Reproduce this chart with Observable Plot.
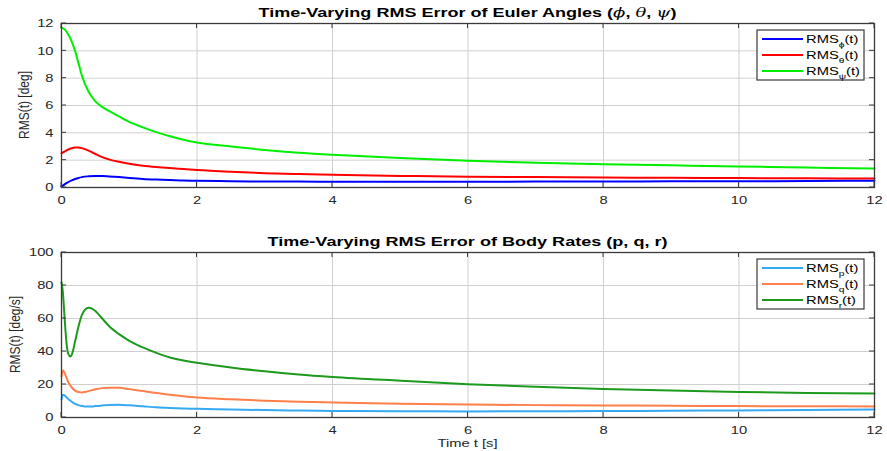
<!DOCTYPE html>
<html>
<head>
<meta charset="utf-8">
<script src="https://cdn.jsdelivr.net/npm/d3@7"></script>
<script src="https://cdn.jsdelivr.net/npm/@observablehq/plot@0.6"></script>
<style>
  html, body { margin: 0; padding: 0; background: #fff; }
  #chart { width: 887px; }
  svg { display: block; font-family: "Liberation Sans", Arial, sans-serif; }
</style>
</head>
<body>
<div id="chart"></div>
<script>
// ---- Data: Euler angles panel ----
const tAngles = [0,0.05,0.1,0.15,0.2,0.25,0.3,0.4,0.5,0.6,0.7,0.85,1.0,1.2,1.4,1.6,1.8,2,2.5,3,3.5,4,5,6,7,8,9,10,11,12];
const rmsPhi   = [0.05,0.25,0.4,0.52,0.62,0.7,0.76,0.82,0.85,0.84,0.81,0.76,0.7,0.63,0.58,0.54,0.51,0.49,0.46,0.44,0.43,0.42,0.42,0.42,0.43,0.44,0.45,0.46,0.47,0.5];
const rmsTheta = [2.5,2.65,2.78,2.87,2.92,2.93,2.88,2.7,2.45,2.22,2.06,1.88,1.74,1.6,1.5,1.42,1.35,1.28,1.15,1.05,0.98,0.93,0.85,0.79,0.76,0.73,0.71,0.69,0.67,0.66];
const rmsPsi   = [11.7,11.55,11.2,10.7,10.0,9.1,8.2,7.0,6.3,5.9,5.6,5.2,4.8,4.4,4.05,3.75,3.5,3.3,3.0,2.75,2.55,2.4,2.15,1.95,1.82,1.71,1.62,1.54,1.46,1.39];

// ---- Data: body rates panel ----
const tRates = [0,0.02,0.04,0.06,0.08,0.1,0.13,0.16,0.2,0.25,0.3,0.35,0.4,0.45,0.5,0.6,0.7,0.85,1.0,1.2,1.4,1.6,1.8,2,2.5,3,3.5,4,5,6,7,8,9,10,11,12];
const rmsP = [11,13.8,13.5,12.8,12.0,11.2,10.2,9.3,8.3,7.5,7.0,6.7,6.6,6.7,6.9,7.3,7.6,7.7,7.4,6.8,6.2,5.8,5.5,5.3,4.9,4.5,4.2,4.0,3.8,3.7,3.8,3.9,4.1,4.3,4.6,4.8];
const rmsQ = [25,28.5,27.5,25.5,23.5,21.5,19.5,17.8,16.3,15.4,15.2,15.5,16.0,16.6,17.1,17.8,18.1,18.0,17.2,16.0,14.8,13.8,12.9,12.1,11.0,10.2,9.6,9.1,8.4,7.9,7.5,7.3,7.1,6.9,6.8,6.7];
const rmsR = [82,76,64,52,43,38.5,37,39,46,55,62,65.5,66.5,66,64.5,60,55.5,50.5,46.5,42.5,39.2,36.4,34.5,33.2,30.3,28.0,26.1,24.6,22.3,20.2,18.6,17.3,16.3,15.5,14.9,14.5];

// ---- Labels / ticks ----
const xTicks = [0,2,4,6,8,10,12];
const yTicksAngles = [0,2,4,6,8,10,12];
const yTicksRates = [0,20,40,60,80,100];
const anglesSeries = ["phi","theta","psi"];
const anglesSubs = ["ϕ","θ","ψ"];
const anglesColors = ["#0000ff","#ff0000","#00ee00"];
const ratesSeries = ["p","q","r"];
const ratesSubs = ["p","q","r"];
const ratesColors = ["#35a9f2","#ff7f4a","#1d9a1d"];

function longForm(t, names, arrays) {
  const out = [];
  names.forEach((n, k) => arrays[k].forEach((v, i) => out.push({t: t[i], v, s: n})));
  return out;
}
const dataAngles = longForm(tAngles, anglesSeries, [rmsPhi, rmsTheta, rmsPsi]);
const dataRates = longForm(tRates, ratesSeries, [rmsP, rmsQ, rmsR]);

const W = 887, ML = 61, MR = 13;
const FONT = '"Liberation Sans", Arial, sans-serif';
const FS = 11.5;       // text size (vertical)
const STRETCH = 1.28;  // the reference image is horizontally stretched

function panel({data, names, colors, yDomain, yTicks, height, marginTop, marginBottom}) {
  return Plot.plot({
    width: W, height, marginLeft: ML, marginRight: MR, marginTop, marginBottom,
    style: {fontFamily: FONT, fontSize: FS + "px", color: "#262626", background: "#fff"},
    x: {domain: [0, 12], ticks: xTicks, label: null},
    y: {domain: yDomain, ticks: yTicks, label: null},
    color: {domain: names, range: colors},
    marks: [
      Plot.gridX(xTicks, {stroke: "#d0d0d0", strokeOpacity: 1, strokeWidth: 1}),
      Plot.gridY(yTicks, {stroke: "#d0d0d0", strokeOpacity: 1, strokeWidth: 1}),
      Plot.line(data, {x: "t", y: "v", z: "s", stroke: "s", strokeWidth: 2, curve: "monotone-x"}),
      Plot.frame({stroke: "#3a3a3a", strokeWidth: 1.3}),
      Plot.axisX(xTicks, {tickSize: 0, tickPadding: 8, fontSize: FS, fill: "#262626", label: null}),
      Plot.axisY(yTicks, {tickSize: 0, tickPadding: 8, fontSize: FS, fill: "#262626", label: null})
    ]
  });
}

function decorate(svgNode, {titleParts, titleWidth, yLabel, yLabelX, xLabel, height, marginTop, marginBottom, names, subs, colors, yTicks}) {
  const svg = d3.select(svgNode);
  const sx = svgNode.scale("x"), sy = svgNode.scale("y");
  const plotL = ML, plotR = W - MR, plotT = marginTop, plotB = height - marginBottom;
  const cx = (plotL + plotR) / 2;
  // inward ticks on all four sides (MATLAB box style)
  const g = svg.append("g").attr("stroke", "#3a3a3a").attr("stroke-width", 1);
  xTicks.forEach(v => {
    const x = sx.apply(v);
    g.append("line").attr("x1", x).attr("x2", x).attr("y1", plotB).attr("y2", plotB - 5);
    g.append("line").attr("x1", x).attr("x2", x).attr("y1", plotT).attr("y2", plotT + 5);
  });
  yTicks.forEach(v => {
    const y = sy.apply(v);
    g.append("line").attr("x1", plotL).attr("x2", plotL + 5).attr("y1", y).attr("y2", y);
    g.append("line").attr("x1", plotR).attr("x2", plotR - 5).attr("y1", y).attr("y2", y);
  });
  // title
  const tt = svg.append("text").attr("class", "fixed").attr("x", cx).attr("y", plotT - 6)
    .attr("text-anchor", "middle").attr("font-weight", "bold").attr("font-size", 12)
    .attr("font-family", FONT).attr("fill", "#000")
    .attr("textLength", titleWidth).attr("lengthAdjust", "spacingAndGlyphs");
  titleParts.forEach(([txt, it]) => {
    const ts = tt.append("tspan").text(txt);
    if (it) ts.attr("font-style", "italic").attr("font-family", '"DejaVu Serif", serif').attr("font-weight", "normal");
  });
  // y label (rotated; its glyph height is widened like the rest of the image)
  svg.append("text").attr("class", "fixed")
    .attr("transform", `translate(${yLabelX},${(plotT + plotB) / 2}) scale(${STRETCH},1) rotate(-90)`)
    .attr("text-anchor", "middle").attr("font-size", 12).attr("font-family", FONT)
    .attr("fill", "#262626").text(yLabel);
  if (xLabel) {
    svg.append("text").attr("x", cx).attr("y", plotB + 30).attr("text-anchor", "middle")
      .attr("font-size", FS).attr("font-family", FONT).attr("fill", "#262626").text(xLabel);
  }
  // legend
  const bx = plotR - 117, by = plotT + 7, bw = 107, bh = 50;
  const lg = svg.append("g");
  lg.append("rect").attr("x", bx).attr("y", by).attr("width", bw).attr("height", bh)
    .attr("fill", "#fff").attr("stroke", "#3a3a3a").attr("stroke-width", 1.2);
  names.forEach((n, i) => {
    const yy = by + 9 + i * 16;
    lg.append("line").attr("x1", bx + 5).attr("x2", bx + 46).attr("y1", yy).attr("y2", yy)
      .attr("stroke", colors[i]).attr("stroke-width", 2);
    const tx = lg.append("text").attr("x", bx + 49).attr("y", yy + 4).attr("font-size", FS)
      .attr("text-anchor", "start").attr("font-family", FONT).attr("fill", "#000");
    tx.append("tspan").text("RMS");
    tx.append("tspan").attr("font-size", 8).attr("dy", 4).text(subs[i]);
    tx.append("tspan").attr("dy", -4).text("(t)");
  });
}

const hTop = 207, mtTop = 23, mbTop = 20;
const hBot = 244, mtBot = 45, mbBot = 34;

const plotAngles = panel({data: dataAngles, names: anglesSeries, colors: anglesColors, yDomain: [0, 12], yTicks: yTicksAngles, height: hTop, marginTop: mtTop, marginBottom: mbTop});
decorate(plotAngles, {titleParts: [["Time-Varying RMS Error of Euler Angles (", false], ["ϕ", true], [", ", false], ["θ", true], [", ", false], ["ψ", true], [")", false]],
  titleWidth: 418, yLabel: "RMS(t) [deg]", yLabelX: 29, height: hTop, marginTop: mtTop, marginBottom: mbTop, names: anglesSeries, subs: anglesSubs, colors: anglesColors, yTicks: yTicksAngles});

const plotRates = panel({data: dataRates, names: ratesSeries, colors: ratesColors, yDomain: [0, 100], yTicks: yTicksRates, height: hBot, marginTop: mtBot, marginBottom: mbBot});
decorate(plotRates, {titleParts: [["Time-Varying RMS Error of Body Rates (p, q, r)", false]],
  titleWidth: 400, yLabel: "RMS(t) [deg/s]", yLabelX: 20, xLabel: "Time t [s]", height: hBot, marginTop: mtBot, marginBottom: mbBot, names: ratesSeries, subs: ratesSubs, colors: ratesColors, yTicks: yTicksRates});

document.getElementById("chart").append(plotAngles, plotRates);

// widen horizontal texts to match the reference's stretched look
[plotAngles, plotRates].forEach(svgNode => {
  svgNode.querySelectorAll("text").forEach(t => {
    if (t.classList.contains("fixed")) return;
    const w = t.getComputedTextLength();
    if (w > 0) {
      t.setAttribute("textLength", (w * STRETCH).toFixed(2));
      t.setAttribute("lengthAdjust", "spacingAndGlyphs");
    }
  });
});
</script>
</body>
</html>
